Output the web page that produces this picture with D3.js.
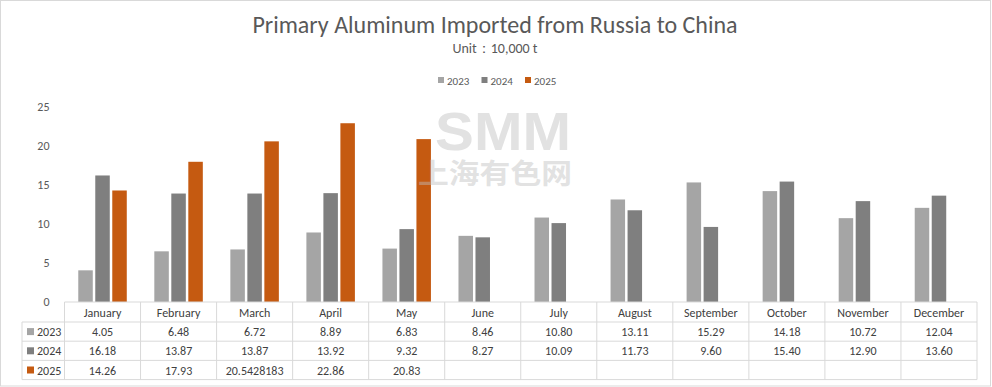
<!DOCTYPE html>
<html>
<head>
<meta charset="utf-8">
<script src="https://cdn.jsdelivr.net/npm/d3@7"></script>
<style>
  body { margin: 0; background: #fff; }
  svg text { font-family: Carlito, 'Liberation Sans Narrow', Lato, sans-serif; }
</style>
</head>
<body>
<script>
const months = ['January', 'February', 'March', 'April', 'May', 'June', 'July', 'August', 'September', 'October', 'November', 'December']
const series = ['2023', '2024', '2025']
const v2023 = [4.05, 6.48, 6.72, 8.89, 6.83, 8.46, 10.80, 13.11, 15.29, 14.18, 10.72, 12.04]
const v2024 = [16.18, 13.87, 13.87, 13.92, 9.32, 8.27, 10.09, 11.73, 9.60, 15.40, 12.90, 13.60]
const v2025 = [14.26, 17.93, 20.5428183, 22.86, 20.83]
const yTicks = [0, 5, 10, 15, 20, 25]
const colors = ['#a5a5a5', '#7f7f7f', '#c55a11']

const values = [v2023, v2024, v2025]

const W = 992, H = 387
const left = 64.5, right = 977, zeroY = 302
const rowY = [302, 322, 341.2, 360.4, 379.6]
const tableLeft = 22

const svg = d3.select('body')
  .append('svg')
  .attr('width', W)
  .attr('height', H)

svg.append('rect')
  .attr('x', 0.5).attr('y', 0.5)
  .attr('width', W - 2).attr('height', H - 1.5)
  .attr('fill', '#fff')
  .attr('stroke', '#d9d9d9')

// title
svg.append('text')
  .attr('x', 495).attr('y', 33)
  .attr('text-anchor', 'middle')
  .attr('fill', '#595959')
  .style('font-size', '24px')
  .text('Primary Aluminum Imported from Russia to China')

svg.append('text')
  .attr('x', 495).attr('y', 53)
  .attr('text-anchor', 'middle')
  .attr('fill', '#595959')
  .style('font-size', '14px')
  .text('Unit：10,000 t')

// legend
const leg = svg.append('g').attr('transform', 'translate(438, 81)')
series.forEach((s, i) => {
  const g = leg.append('g').attr('transform', `translate(${i * 43.5}, 0)`)
  g.append('rect').attr('x', 0).attr('y', -4).attr('width', 6).attr('height', 6).attr('fill', colors[i])
  g.append('text').attr('x', 9).attr('y', 3.5)
    .attr('fill', '#595959').style('font-size', '11px').text(s)
})

const x = d3.scaleBand().domain(months).range([left, right])
const xs = d3.scaleBand().domain(series).range([0, x.bandwidth()])
  .paddingInner(0.147).paddingOuter(0.81)
const y = d3.scaleLinear().domain([0, 25]).range([zeroY, 106.5])

// y axis
const yAxis = svg.append('g')
  .attr('transform', `translate(${left}, 0)`)
  .call(d3.axisLeft(y).tickValues(yTicks).tickSize(0).tickPadding(15))
yAxis.select('.domain').remove()
yAxis.selectAll('text')
  .attr('fill', '#595959')
  .style('font-size', '12px')
  .style('font-family', "Carlito, 'Liberation Sans Narrow', Lato, sans-serif")

// bars
const barData = []
series.forEach((s, si) => {
  values[si].forEach((v, mi) => barData.push({ s, si, m: months[mi], v }))
})

svg.append('g').selectAll('rect')
  .data(barData)
  .enter()
  .append('rect')
  .attr('x', d => x(d.m) + xs(d.s))
  .attr('y', d => y(d.v))
  .attr('width', xs.bandwidth())
  .attr('height', d => y(0) - y(d.v))
  .attr('fill', d => colors[d.si])

// watermark
const wm = svg.append('g').attr('opacity', 0.45).attr('fill', '#bfbfbf')
wm.append('text')
  .attr('x', 503).attr('y', 150)
  .attr('text-anchor', 'middle')
  .style('font-size', '54px')
  .style('font-weight', 'bold')
  .style('font-family', "'Liberation Sans', sans-serif")
  .attr('textLength', 136).attr('lengthAdjust', 'spacingAndGlyphs')
  .text('SMM')
wm.append('text')
  .attr('x', 495).attr('y', 184)
  .attr('text-anchor', 'middle')
  .style('font-size', '28px')
  .style('font-weight', 'bold')
  .style('font-family', "'Noto Sans CJK SC', sans-serif")
  .attr('textLength', 154).attr('lengthAdjust', 'spacingAndGlyphs')
  .text('上海有色网')

// data table
const grid = svg.append('g').attr('stroke', '#d9d9d9').attr('stroke-width', 1)
grid.append('line').attr('x1', left).attr('x2', right).attr('y1', rowY[0]).attr('y2', rowY[0])
rowY.slice(1).forEach(yy => {
  grid.append('line').attr('x1', tableLeft).attr('x2', right).attr('y1', yy).attr('y2', yy)
})
grid.append('line').attr('x1', tableLeft).attr('x2', tableLeft).attr('y1', rowY[1]).attr('y2', rowY[4])
months.concat(['end']).forEach((m, i) => {
  const xx = left + i * x.bandwidth()
  grid.append('line').attr('x1', xx).attr('x2', xx).attr('y1', rowY[0]).attr('y2', rowY[4])
})

const fmt = v => (Math.round(v * 100) === v * 100 ? v.toFixed(2) : String(v))

svg.append('g').selectAll('text')
  .data(months)
  .enter()
  .append('text')
  .attr('x', d => x(d) + x.bandwidth() / 2)
  .attr('y', (rowY[0] + rowY[1]) / 2 + 4.5)
  .attr('text-anchor', 'middle')
  .attr('fill', '#404040')
  .style('font-size', '12px')
  .text(d => d)

series.forEach((s, si) => {
  const cy = (rowY[si + 1] + rowY[si + 2]) / 2
  svg.append('rect').attr('x', 27).attr('y', cy - 3.5).attr('width', 7).attr('height', 7).attr('fill', colors[si])
  svg.append('text').attr('x', 37).attr('y', cy + 4.5)
    .attr('fill', '#404040').style('font-size', '12px').text(s)
  svg.append('g').selectAll('text')
    .data(values[si])
    .enter()
    .append('text')
    .attr('x', (d, i) => x(months[i]) + x.bandwidth() / 2)
    .attr('y', cy + 4.5)
    .attr('text-anchor', 'middle')
    .attr('fill', '#404040')
    .style('font-size', '12px')
    .text(d => fmt(d))
})
</script>
</body>
</html>
